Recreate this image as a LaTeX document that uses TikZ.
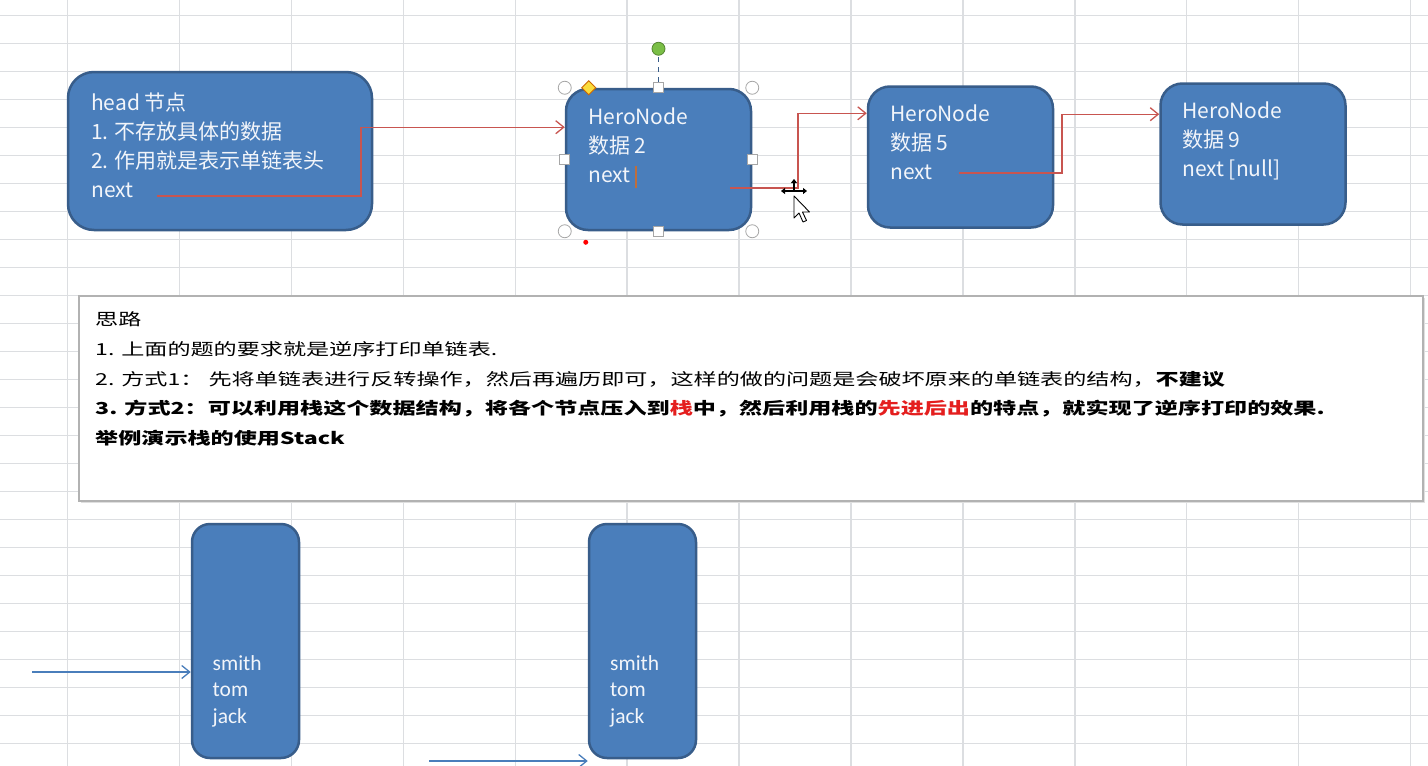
\documentclass[tikz,border=0pt]{standalone}
\usepackage{fontspec}
\setmainfont{Noto Sans CJK SC}
\newfontfamily\notefont{Noto Sans CJK SC}[FakeStretch=1.4]
\newfontfamily\stackfont{Carlito}
\usetikzlibrary{positioning,arrows.meta}
\definecolor{NodeFill}{RGB}{74,126,187}
\definecolor{NodeEdge}{RGB}{56,93,138}
\definecolor{NodeText}{RGB}{242,245,250}
\definecolor{LinkRed}{RGB}{200,85,80}
\definecolor{GridGray}{RGB}{220,222,225}
\definecolor{MarkRed}{RGB}{228,30,30}
\definecolor{Caret}{RGB}{190,110,60}
\definecolor{Rotor}{RGB}{122,190,70}
\definecolor{Knob}{RGB}{250,220,60}

\begin{document}
\begin{tikzpicture}[x=1pt,y=-1pt,
    heronode/.style={draw=NodeEdge,fill=NodeFill,line width=2.5pt,rounded corners=22pt,inner sep=0pt,minimum width=185pt,minimum height=141pt},
    stackbox/.style={heronode,rounded corners=18pt,minimum width=107pt,minimum height=234pt},
    nodetext/.style={text=NodeText,anchor=base west,align=left,inner sep=0pt,font=\fontsize{21}{29}\selectfont},
    link/.style={LinkRed,line width=1.3pt,-{Straight Barb[length=8pt,width=13pt]}},
    feed/.style={NodeFill,line width=1.3pt,-{Straight Barb[length=8pt,width=13pt]}},
    handle/.style={draw=gray!70,fill=white,line width=0.8pt}]
  \fill[white] (0,0) rectangle (1428,766);
  \useasboundingbox (0,0) rectangle (1428,766);
  \foreach \gx in {0,...,12} {
    \draw[GridGray,line width=1.5pt] ({67.7+111.9*\gx},0) -- ({67.7+111.9*\gx},766);
  }
  \foreach \gy in {0,...,26} {
    \draw[GridGray,line width=1.5pt] (0,{15.7+28*\gy}) -- (1428,{15.7+28*\gy});
  }

  \node[heronode,rounded corners=26pt,minimum width=304pt,minimum height=158pt] (head) at (220,151) {};
  \node[heronode] (n2) at (658.5,159.5) {};
  \node[heronode] (n5) at (960.5,157) {};
  \node[heronode] (n9) at (1253,154) {};
  \node[nodetext] (headtxt) at (91,197) {head 节点\\1. 不存放具体的数据\\2. 作用就是表示单链表头\\next};
  \node[nodetext] (n2txt) at (588,182) {HeroNode\\数据 2\\next};
  \node[nodetext] (n5txt) at (890,179) {HeroNode\\数据 5\\next};
  \node[nodetext] (n9txt) at (1182,176) {HeroNode\\数据 9\\next [null]};

  \coordinate (hnext) at (157,196);
  \coordinate (n2next) at (730,188);
  \coordinate (n5next) at (959,173);
  \draw[link] (hnext) -- ++(204,0) |- (n2.161);
  \draw[link] (n2next) -- ++(68,0) |- (n5.155);
  \draw[link] (n5next) -- ++(103,0) |- (n9.157);

  \draw[Caret,line width=1.5pt] (636,166) -- (636,188);
  \foreach \a in {north west,north east,south west,south east} {
    \draw[handle] (n2.\a) circle (6.5);
  }
  \foreach \a in {north,south,west,east} {
    \draw[handle] ([shift={(-5pt,-5pt)}]n2.\a) rectangle ([shift={(5pt,5pt)}]n2.\a);
  }
  \draw[NodeEdge,line width=1.2pt,dash pattern=on 5pt off 5pt] ([yshift=6pt]n2.north) -- ([yshift=32pt]n2.north);
  \draw[draw=Rotor!70!black,fill=Rotor,line width=0.8pt] ([yshift=39pt]n2.north) circle (6.5);
  \draw[draw=orange!80!black,fill=Knob,line width=0.8pt] ([xshift=17pt]n2.north west) -- ++(7,-7) -- ++(7,7) -- ++(-7,7) -- cycle;
  \fill[red] ([xshift=21pt,yshift=-11pt]n2.south west) circle (2.5);

  \draw[line width=1.2pt,{Triangle[length=4pt,width=6pt]}-{Triangle[length=4pt,width=6pt]}] (781,191) -- (807,191);
  \draw[line width=1.2pt,-{Triangle[length=4pt,width=6pt]}] (794,191) -- (794,179);
  \draw[fill=white,line width=0.9pt,line join=round] (794,196) -- ++(0,22) -- ++(5,-5) -- ++(4,9) -- ++(3.5,-1.5) -- ++(-4,-8.5) -- ++(7,0) -- cycle;

  \fill[gray!25] (81,298) rectangle (1425,503);
  \node[draw=gray!60,fill=white,line width=1.2pt,minimum width=1344pt,minimum height=205pt,inner sep=0pt] (note) at (751,398.5) {};
  \node[anchor=base west,align=left,inner sep=0pt,font=\notefont\fontsize{16.5}{29.8}\selectfont] (notetxt) at (95,444.7) {思路\\
    1. 上面的题的要求就是逆序打印单链表.\\
    2. 方式1：\ 先将单链表进行反转操作，然后再遍历即可，这样的做的问题是会破坏原来的单链表的结构，\textbf{不建议}\\
    \textbf{3. 方式2：可以利用栈这个数据结构，将各个节点压入到\textcolor{MarkRed}{栈}中，然后利用栈的\textcolor{MarkRed}{先进后出}的特点，就实现了逆序打印的效果.}\\
    \textbf{举例演示栈的使用Stack}};

  \node[stackbox] (s1) at (245.5,641) {};
  \node[stackbox] (s2) at (642.5,641) {};
  \node[nodetext,font=\stackfont\fontsize{21.5}{26.5}\selectfont] (s1txt) at (212.5,723) {smith\\tom\\jack};
  \node[nodetext,font=\stackfont\fontsize{21.5}{26.5}\selectfont] (s2txt) at (610,723) {smith\\tom\\jack};
  \coordinate (s1in) at (32,672);
  \coordinate (s2in) at (429,761);
  \draw[feed] (s1in) -- (s1in -| s1.west);
  \draw[feed] (s2in) -- (s2in -| s2.west);
\end{tikzpicture}
\end{document}
